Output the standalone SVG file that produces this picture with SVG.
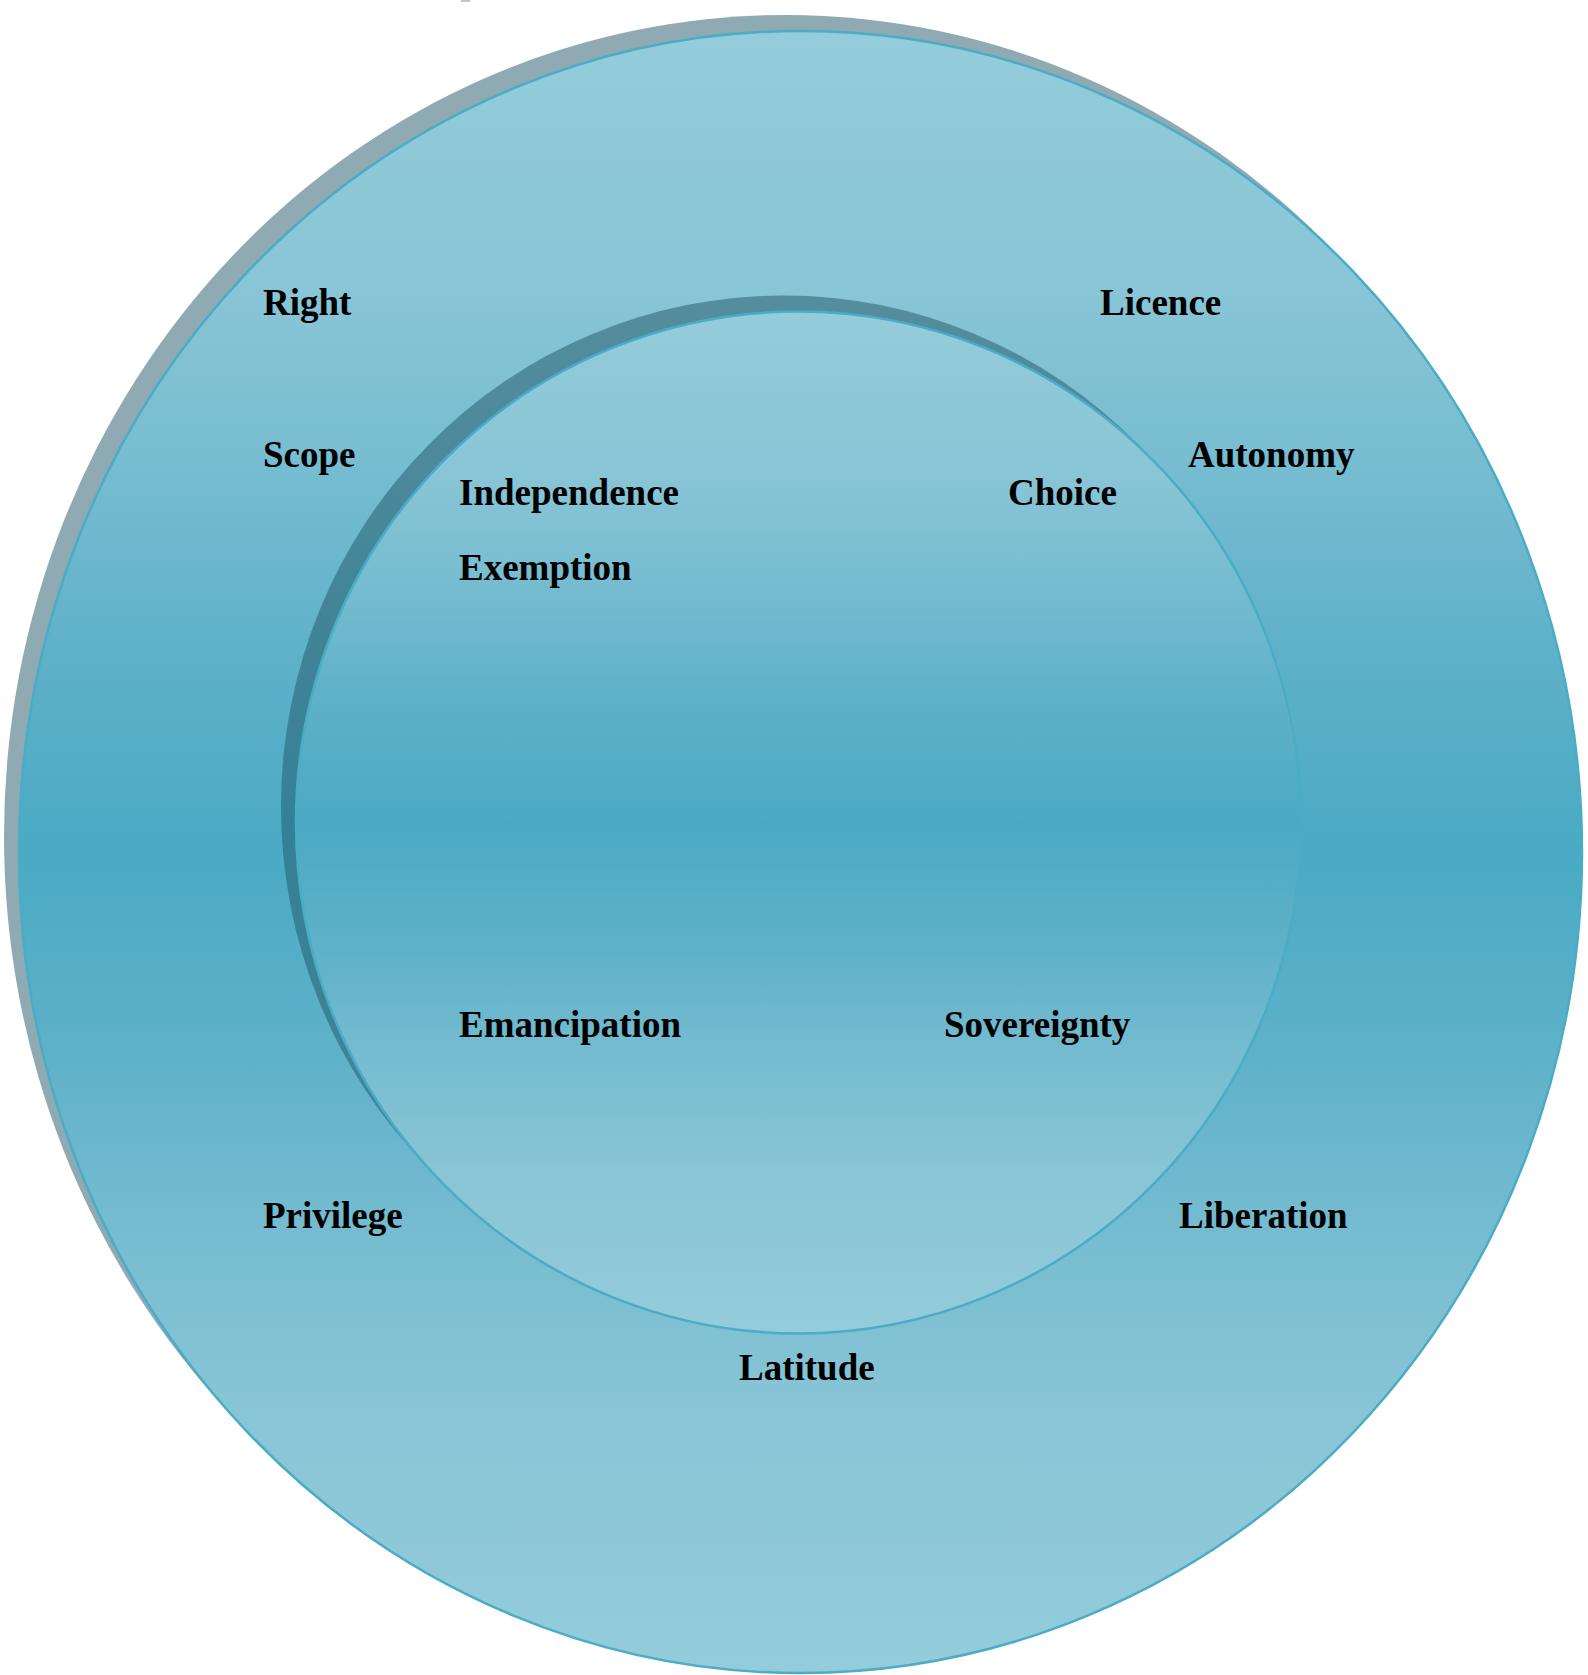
<svg xmlns="http://www.w3.org/2000/svg" width="1588" height="1675" viewBox="0 0 1588 1675">
  <defs>
    <linearGradient id="fillGrad" x1="0" y1="0" x2="0" y2="1">
      <stop offset="0" stop-color="#94CCDB"/>
      <stop offset="0.16" stop-color="#88C5D6"/>
      <stop offset="0.27" stop-color="#76BCD0"/>
      <stop offset="0.38" stop-color="#5EB1C9"/>
      <stop offset="0.5" stop-color="#4AAAC4"/>
      <stop offset="0.62" stop-color="#5EB1C9"/>
      <stop offset="0.73" stop-color="#76BCD0"/>
      <stop offset="0.84" stop-color="#88C5D6"/>
      <stop offset="1" stop-color="#94CCDB"/>
    </linearGradient>
    <style>
      .shadow { fill: #1F5565; fill-opacity: 0.5; stroke: none; }
      .disc { fill: url(#fillGrad); stroke: #4BACC6; stroke-width: 2.5; }
      .lbl { font-family: "Liberation Serif", "Times New Roman", serif; font-weight: bold; font-size: 37px; fill: #000000; }
    </style>
  </defs>
  <rect x="0" y="0" width="1588" height="1675" fill="#FFFFFF"/>
  <rect x="461" y="0" width="9" height="2" fill="#C4C4C4"/>

  <g id="outer-ring">
    <ellipse class="shadow" cx="785.5" cy="836" rx="781.5" ry="821"/>
    <ellipse class="disc" cx="800.5" cy="852" rx="781.5" ry="821"/>
    <g id="outer-labels">
      <text class="lbl" x="263" y="315">Right</text>
      <text class="lbl" x="1100" y="315">Licence</text>
      <text class="lbl" x="263" y="467">Scope</text>
      <text class="lbl" x="1188" y="467">Autonomy</text>
      <text class="lbl" x="263" y="1228">Privilege</text>
      <text class="lbl" x="1179" y="1228">Liberation</text>
      <text class="lbl" x="739" y="1380">Latitude</text>
    </g>
  </g>

  <g id="inner-circle">
    <ellipse class="shadow" cx="783.5" cy="806.5" rx="502.5" ry="511"/>
    <ellipse class="disc" cx="798.5" cy="822.5" rx="502.5" ry="511"/>
    <g id="inner-labels">
      <text class="lbl" x="459" y="505">Independence</text>
      <text class="lbl" x="1008" y="505">Choice</text>
      <text class="lbl" x="459" y="580">Exemption</text>
      <text class="lbl" x="459" y="1037">Emancipation</text>
      <text class="lbl" x="944" y="1037">Sovereignty</text>
    </g>
  </g>

  <g id="connectors"/>
</svg>
